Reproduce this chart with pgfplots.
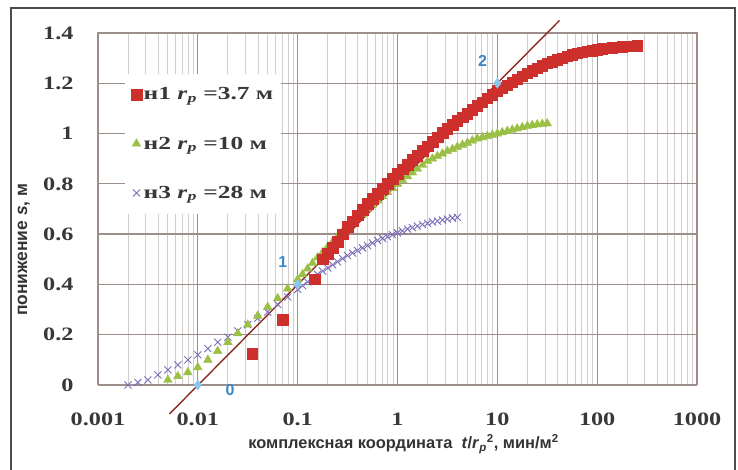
\documentclass[border=0pt]{standalone}
\usepackage{pgfplots}
\usepackage{pgfplotstable}
\pgfplotsset{compat=1.18}
\usepackage{fontspec}
\setmainfont{Liberation Serif}
\setsansfont{Liberation Sans}
\newfontfamily\tickfont{Liberation Serif}[FakeStretch=1.28]
\newfontfamily\legfont{Liberation Serif}[FakeStretch=1.38]
\newfontfamily\labfont{Liberation Sans}
\definecolor{rd}{HTML}{CC2F2C}
\definecolor{gr}{HTML}{9BC045}
\definecolor{pu}{HTML}{7C6FB8}
\definecolor{ln}{HTML}{8E2A22}
\definecolor{ptb}{HTML}{8CC6EC}
\definecolor{ptt}{HTML}{3F86C4}
\definecolor{gmaj}{HTML}{9C8E8A}
\definecolor{gmin}{HTML}{D2CCCB}

\pgfplotstableread{
x y
0.035 0.125
0.071 0.26
0.148 0.42
0.178 0.50
0.2 0.523
0.224 0.547
0.251 0.57
0.282 0.60
0.316 0.63
0.355 0.652
0.398 0.675
0.447 0.698
0.501 0.72
0.562 0.74
0.631 0.76
0.708 0.78
0.794 0.80
0.891 0.82
1 0.84
1.12 0.858
1.26 0.877
1.41 0.895
1.58 0.913
1.78 0.932
2.0 0.95
2.24 0.967
2.51 0.985
2.82 1.003
3.16 1.02
3.55 1.035
3.98 1.05
4.47 1.065
5.01 1.08
5.62 1.095
6.31 1.11
7.08 1.125
7.94 1.14
8.91 1.155
10 1.17
11.2 1.182
12.6 1.193
14.1 1.205
15.8 1.217
17.8 1.228
20 1.24
22.4 1.25
25.1 1.26
28.2 1.27
31.6 1.28
35.5 1.287
39.8 1.293
44.7 1.30
50.1 1.307
56.2 1.313
63.1 1.32
70.8 1.323
79.4 1.327
89.1 1.33
100 1.333
112 1.337
126 1.34
141 1.342
158 1.343
178 1.345
200 1.347
224 1.348
251 1.35
}\redtab

\pgfplotstableread{
x y
0.00501 0.02
0.00631 0.035
0.00794 0.05
0.01 0.07
0.0126 0.10
0.0158 0.135
0.02 0.17
0.0251 0.205
0.0316 0.24
0.0398 0.275
0.0501 0.31
0.0631 0.345
0.0794 0.383
0.1 0.42
0.112 0.44
0.126 0.463
0.141 0.485
0.158 0.507
0.178 0.528
0.2 0.55
0.224 0.57
0.251 0.59
0.282 0.61
0.316 0.628
0.355 0.645
0.398 0.662
0.447 0.68
0.501 0.70
0.562 0.717
0.631 0.733
0.708 0.75
0.794 0.767
0.891 0.783
1 0.80
1.12 0.815
1.26 0.83
1.41 0.845
1.58 0.86
1.78 0.875
2.0 0.89
2.24 0.90
2.51 0.91
2.82 0.92
3.16 0.93
3.55 0.938
3.98 0.947
4.47 0.955
5.01 0.963
5.62 0.972
6.31 0.98
7.08 0.985
7.94 0.99
8.91 0.995
10 1.00
11.2 1.005
12.6 1.01
14.1 1.015
15.8 1.02
17.8 1.025
20 1.03
22.4 1.033
25.1 1.036
28.2 1.038
31.6 1.04
}\greentab

\pgfplotstableread{
x y
0.002 0.00
0.00251 0.01
0.00316 0.02
0.00398 0.04
0.00501 0.06
0.00631 0.08
0.00794 0.10
0.01 0.12
0.0126 0.145
0.0158 0.17
0.02 0.19
0.0251 0.215
0.0316 0.24
0.0398 0.265
0.0501 0.29
0.0631 0.32
0.0794 0.35
0.1 0.38
0.112 0.395
0.126 0.41
0.141 0.425
0.158 0.44
0.178 0.453
0.2 0.465
0.224 0.478
0.251 0.49
0.282 0.503
0.316 0.515
0.355 0.525
0.398 0.535
0.447 0.545
0.501 0.555
0.562 0.565
0.631 0.575
0.708 0.583
0.794 0.59
0.891 0.598
1 0.605
1.12 0.613
1.26 0.62
1.41 0.626
1.58 0.632
1.78 0.638
2.0 0.643
2.24 0.648
2.51 0.652
2.82 0.656
3.16 0.66
3.55 0.664
3.98 0.667
}\bluetab

\begin{document}
\begin{tikzpicture}[x=1bp,y=1bp]
\useasboundingbox (-98,-85) rectangle (640,385);
\draw[gray!60!black, line width=1.2bp] (-87,-90) -- (-87,377) -- (637,377) -- (637,-90);
\begin{axis}[
  at={(0,0)}, anchor=south west,
  scale only axis, width=599bp, height=352bp,
  xmode=log, xmin=0.001, xmax=1000, ymin=0, ymax=1.4,
  clip=false,
  xtick={0.001,0.01,0.1,1,10,100,1000},
  xticklabels={0.001,0.01,0.1,1,10,100,1000},
  ytick={0,0.2,0.4,0.6,0.8,1,1.2,1.4},
  yticklabels={0,0.2,0.4,0.6,0.8,1,1.2,1.4},
  /pgf/number format/assume math mode=true,
  grid=both,
  major grid style={draw=gmaj, line width=1.3bp},
  minor grid style={draw=gmin, line width=0.8bp},
  axis line style={draw=gmaj, line width=1bp},
  tick style={draw=none},
  ticklabel style={font=\tickfont\bfseries\fontsize{19}{19}\selectfont, text=black!78},
  xticklabel style={yshift=-24bp},
  yticklabel style={xshift=-21bp},
  xlabel={комплексная координата \ \textit{t}/\textit{r}\textsubscript{\textit{p}}\textsuperscript{2}, мин/м\textsuperscript{2}},
  xlabel style={font=\labfont\bfseries\fontsize{16.5}{17}\selectfont, text=black!80, at={(axis description cs:0.51,-0.168)}, anchor=center},
  ylabel={понижение \textit{s}, м},
  ylabel style={font=\labfont\bfseries\fontsize{17.5}{18}\selectfont, text=black!80, at={(axis description cs:-0.124,0.384)}, anchor=center},
  reverse legend,
  legend style={at={(rel axis cs:0.045,0.885)}, anchor=north west, draw=none, fill=white,
    font=\legfont\bfseries\fontsize{18.5}{18.5}\selectfont, row sep=31.5bp, inner xsep=6bp, inner ysep=12bp,
    text=black!78, /tikz/every even column/.append style={column sep=3bp}},
  legend cell align=left,
]
\addplot[ln, line width=1.4bp, forget plot] coordinates {(0.0052,-0.115) (42,1.45)};
\addplot[only marks, mark=x, mark size=5bp, draw=pu, line width=0.9bp] table {\bluetab};
\addlegendentry{н3 \textit{r}\textsubscript{\textit{p}} =28 м}
\addplot[only marks, mark=triangle*, mark size=5bp, draw=gr, fill=gr] table {\greentab};
\addlegendentry{н2 \textit{r}\textsubscript{\textit{p}} =10 м}
\addplot[only marks, mark=square*, mark size=5.3bp, draw=rd, fill=rd] table {\redtab};
\addlegendentry{н1 \textit{r}\textsubscript{\textit{p}} =3.7 м}
\addplot[only marks, mark=diamond*, mark size=5bp, draw=ptb, fill=ptb, forget plot] coordinates {(0.01,0) (0.1,0.4) (10,1.2)};
\node[text=ptt, font=\labfont\bfseries\fontsize{16}{16}\selectfont] at (axis cs:0.021,-0.02) {0};
\node[text=ptt, font=\labfont\bfseries\fontsize{16}{16}\selectfont] at (axis cs:0.071,0.49) {1};
\node[text=ptt, font=\labfont\bfseries\fontsize{16}{16}\selectfont] at (axis cs:7.1,1.29) {2};
\end{axis}
\end{tikzpicture}
\end{document}
